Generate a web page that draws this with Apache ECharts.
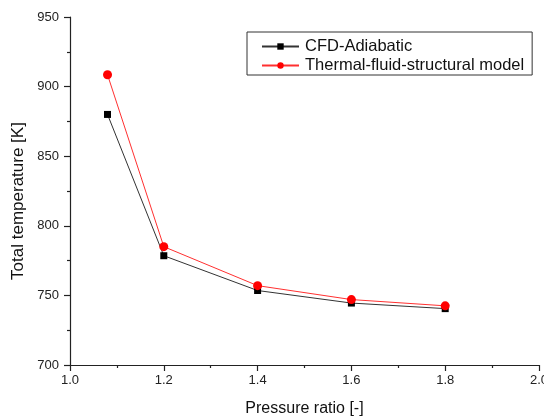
<!DOCTYPE html>
<html><head><meta charset="utf-8">
<script src="https://cdn.jsdelivr.net/npm/echarts@6/dist/echarts.min.js"></script>
<style>html,body{margin:0;padding:0;background:#fff}#c{width:544px;height:419px}</style>
</head><body><div id="c"></div>
<script>
var pressureRatio = [1.08, 1.2, 1.4, 1.6, 1.8];
var cfdAdiabatic = [880, 778.5, 753.5, 744.5, 740.5];
var thermalFluid = [908.5, 785, 757, 747, 742.5];
var seriesNames = ['CFD-Adiabatic', 'Thermal-fluid-structural model'];

function pairs(xs, ys){ return xs.map(function(x,i){ return [x, ys[i]]; }); }
var font = 'Liberation Sans, Arial, sans-serif';
var chart = echarts.init(document.getElementById('c'), null, {renderer:'canvas'});
chart.setOption({
  animation:false,
  backgroundColor:'#fff',
  grid:{left:70, right:5, top:17, bottom:54, containLabel:false, outerBoundsMode:'none'},
  legend:{
    orient:'vertical', left:247, top:32,
    borderColor:'#333', borderWidth:1, borderRadius:0,
    padding:[6,8,1,14], itemGap:2, itemWidth:37, itemHeight:8,
    textStyle:{fontFamily:font, fontSize:16.5, lineHeight:17, color:'#111', padding:[0,0,0,1]},
    data:seriesNames
  },
  xAxis:{
    type:'value', min:1.0, max:2.0, interval:0.2,
    name:'Pressure ratio [-]', nameLocation:'middle', nameGap:36,
    nameTextStyle:{fontFamily:font, fontSize:16, color:'#111'},
    axisLine:{show:true, onZero:false, lineStyle:{color:'#222', width:1.2}},
    axisTick:{show:true, inside:false, length:6, lineStyle:{color:'#222', width:1.2}},
    minorTick:{show:true, splitNumber:2, length:3, lineStyle:{color:'#222', width:1.2}},
    splitLine:{show:false},
    axisLabel:{fontFamily:font, fontSize:13, color:'#222', margin:9,
      formatter:function(v){return v.toFixed(1);}}
  },
  yAxis:{
    type:'value', min:700, max:950, interval:50,
    name:'Total temperature [K]', nameLocation:'middle', nameGap:41,
    nameTextStyle:{fontFamily:font, fontSize:17, color:'#111', padding:[0,20,0,0]},
    axisLine:{show:true, onZero:false, lineStyle:{color:'#222', width:1.2}},
    axisTick:{show:true, inside:false, length:6, lineStyle:{color:'#222', width:1.2}},
    minorTick:{show:true, splitNumber:2, length:3, lineStyle:{color:'#222', width:1.2}},
    splitLine:{show:false},
    axisLabel:{fontFamily:font, fontSize:13, color:'#222', margin:11}
  },
  series:[
    {name:seriesNames[0], type:'line', data:pairs(pressureRatio, cfdAdiabatic),
     symbol:'rect', symbolSize:7, color:'#000',
     lineStyle:{color:'#333', width:1}, itemStyle:{color:'#000'}},
    {name:seriesNames[1], type:'line', data:pairs(pressureRatio, thermalFluid),
     symbol:'circle', symbolSize:9, color:'#ff0000',
     lineStyle:{color:'#ff3030', width:1}, itemStyle:{color:'#ff0000'}}
  ]
});
</script></body></html>
